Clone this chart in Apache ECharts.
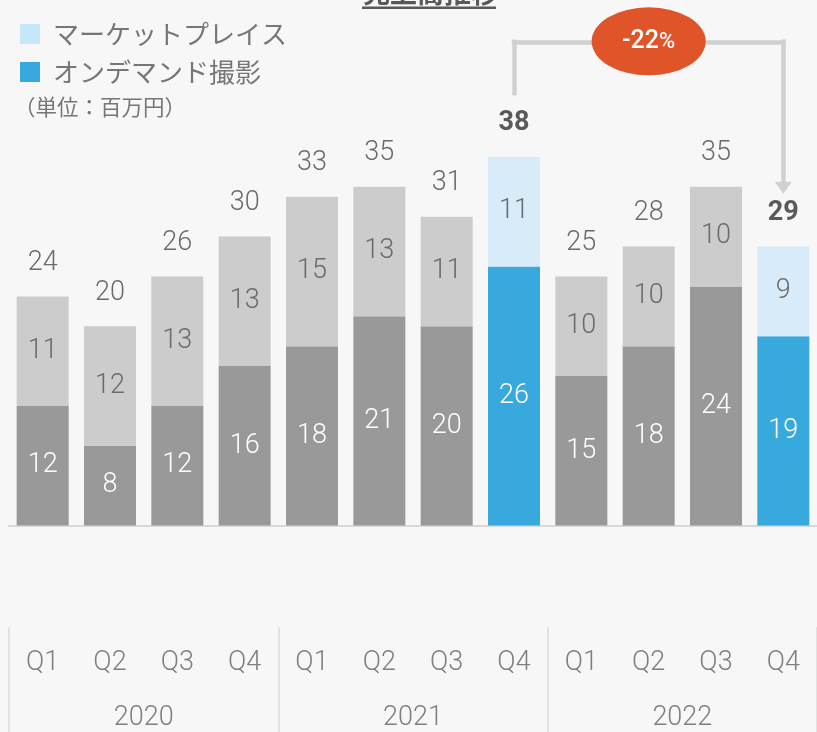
<!DOCTYPE html>
<html>
<head>
<meta charset="utf-8">
<script src="https://cdn.jsdelivr.net/npm/echarts@6/dist/echarts.min.js"></script>
<style>
html,body{margin:0;padding:0;background:#f7f7f7;}
#chart{width:817px;height:732px;}
</style>
</head>
<body>
<div id="chart"></div>
<script>
// ---- data ----
const years = ['2020', '2021', '2022'];
const quarters = ['Q1', 'Q2', 'Q3', 'Q4'];
const onDemand = [12, 8, 12, 16, 18, 21, 20, 26, 15, 18, 24, 19];      // オンデマンド撮影
const marketplace = [11, 12, 13, 13, 15, 13, 11, 11, 10, 10, 10, 9];  // マーケットプレイス
const totals = [24, 20, 26, 30, 33, 35, 31, 38, 25, 28, 35, 29];
const highlighted = [7, 11];
const changeText = '-22%';

const cats = [];
years.forEach(y => quarters.forEach(q => cats.push(y + ' ' + q)));

const numFont = "Roboto, 'Noto Sans', sans-serif";
const jpFont = "'Noto Sans CJK JP', sans-serif";

const darkData = onDemand.map((v, i) => ({
  value: v,
  itemStyle: { color: highlighted.includes(i) ? '#37a9dd' : '#999999' }
}));
const lightData = marketplace.map((v, i) => ({
  value: v,
  itemStyle: { color: highlighted.includes(i) ? '#d7ecf8' : '#cccccc' }
}));
const totalData = totals.map((t, i) => {
  const hi = highlighted.includes(i);
  return {
    value: 0,
    label: hi ? { fontWeight: 'bold', color: '#595959' } : {}
  };
});

const chart = echarts.init(document.getElementById('chart'), null, { renderer: 'canvas' });
const option = {
  backgroundColor: '#f7f7f7',
  animation: false,
  title: [
    {
      text: '売上高推移',
      left: 363, top: -21, padding: 0,
      textStyle: { fontSize: 27, fontWeight: 'bold', color: '#595959', fontFamily: jpFont }
    },
    {
      text: '（単位：百万円）',
      left: 14, top: 96, padding: 0,
      textStyle: { fontSize: 21.5, fontWeight: 'normal', color: '#767676', fontFamily: jpFont }
    }
  ],
  graphic: [
    { type: 'rect', left: 362, top: 6.5, shape: { width: 134, height: 2.5 }, style: { fill: '#595959' } }
  ],
  legend: {
    orient: 'vertical',
    left: 15, top: 16,
    itemWidth: 20, itemHeight: 20, itemGap: 12,
    icon: 'rect',
    textStyle: { fontSize: 26, color: '#767676', fontFamily: jpFont, padding: [0, 0, 0, 8] },
    data: [
      { name: 'マーケットプレイス', itemStyle: { color: '#c6e7f7' } },
      { name: 'オンデマンド撮影', itemStyle: { color: '#37a9dd' } }
    ]
  },
  grid: { left: 9, top: 7.5, width: 811, height: 520 },
  xAxis: [
    {
      type: 'category', data: cats,
      axisLine: { lineStyle: { color: '#d9d9d9', width: 2 } },
      axisTick: { show: false },
      axisLabel: { interval: 0, margin: 124, fontSize: 27, color: '#7f7f7f', fontFamily: numFont, fontWeight: 300,
        formatter: v => v.split(' ')[1] }
    },
    {
      type: 'category', data: years, position: 'bottom', offset: 101.5,
      axisLine: { show: false },
      axisTick: { show: true, length: 110, lineStyle: { color: '#dcdcdc', width: 1.5 } },
      axisLabel: { margin: 78, fontSize: 27, color: '#7f7f7f', fontFamily: numFont, fontWeight: 300 }
    }
  ],
  yAxis: { type: 'value', min: 0, max: 52, show: false, splitLine: { show: false } },
  series: [
    {
      name: 'オンデマンド撮影', type: 'bar', stack: 'a', barWidth: 52,
      itemStyle: { color: '#37a9dd' },
      label: { show: true, position: 'inside', color: '#ffffff', fontSize: 27, fontFamily: numFont, fontWeight: 300 },
      data: darkData
    },
    {
      name: 'マーケットプレイス', type: 'bar', stack: 'a', barWidth: 52,
      itemStyle: { color: '#d7ecf8' },
      label: { show: true, position: 'inside', color: '#6b6b6b', fontSize: 27, fontFamily: numFont, fontWeight: 300 },
      data: lightData,
      markLine: {
        silent: true,
        symbol: ['none', 'none'],
        label: { show: false },
        lineStyle: { color: '#d0d0d0', width: 4.5, type: 'solid', cap: 'square' },
        data: [
          [{ coord: [7, 43.4] }, { coord: [7, 48.55] }],
          [{ coord: [7, 48.55] }, { coord: [11, 48.55] }],
          [{ coord: [11, 48.55] }, { coord: [11, 33.9], symbol: 'triangle', symbolSize: [17, 12] }]
        ]
      },
      markPoint: {
        silent: true,
        data: [{
          coord: [9, 48.6],
          symbol: 'circle', symbolSize: [114, 68],
          itemStyle: { color: '#e0542a' },
          label: {
            show: true, position: 'inside',
            formatter: () => '{a|' + changeText.replace('%', '') + '}{b|%}',
            rich: {
              a: { fontSize: 25, color: '#ffffff', fontFamily: numFont, fontWeight: 500 },
              b: { fontSize: 22, color: '#ffffff', fontFamily: numFont, fontWeight: 500, padding: [2, 0, 0, 0] }
            }
          }
        }]
      }
    },
    {
      name: '合計', type: 'bar', stack: 'a', barWidth: 52,
      itemStyle: { color: 'rgba(0,0,0,0)' },
      label: {
        show: true, position: 'top', distance: 20,
        color: '#6b6b6b', fontSize: 27, fontFamily: numFont, fontWeight: 300,
        formatter: p => String(totals[p.dataIndex])
      },
      data: totalData
    }
  ]
};
chart.setOption(option);
</script>
</body>
</html>
